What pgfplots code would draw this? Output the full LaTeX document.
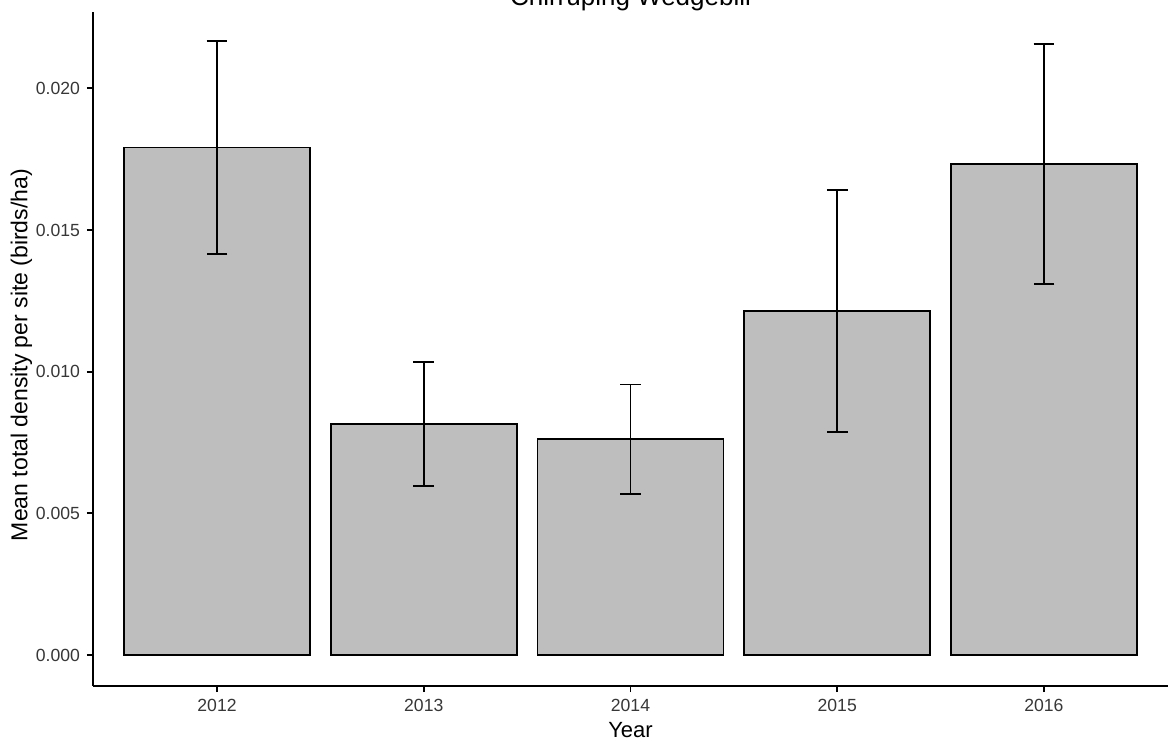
\documentclass[border=0pt]{standalone}
\usepackage{fontspec}
\setmainfont{Liberation Sans}
\usepackage{pgfplots}
\usepackage{pgfplotstable}
\pgfplotsset{compat=1.18}
\definecolor{barfill}{RGB}{190,190,190}
\definecolor{ticktext}{RGB}{55,55,55}
\pgfplotstableread{
x y ep em
0 0.01791 0.00376 0.00376
1 0.00815 0.00220 0.00219
2 0.00762 0.00193 0.00194
3 0.01214 0.00428 0.00427
4 0.01733 0.00423 0.00424
}\density
\begin{document}
\begin{tikzpicture}
\begin{axis}[
  at={(0,0)}, anchor=south west,
  scale only axis, width=537.5pt, height=337pt,
  xmin=-0.6, xmax=4.6, ymin=-0.00109, ymax=0.02269,
  axis lines*=left,
  axis line style={line width=0.9pt, black},
  tick align=outside,
  major tick length=3pt,
  every tick/.style={black, line width=0.9pt},
  xtick={0,1,2,3,4}, xticklabels={2012,2013,2014,2015,2016},
  ytick={0,0.005,0.01,0.015,0.02},
  scaled y ticks=false,
  yticklabel style={/pgf/number format/fixed, /pgf/number format/precision=3, /pgf/number format/fixed zerofill},
  /pgf/number format/assume math mode=true,
  tick label style={font=\fontsize{8.8}{10.5}\selectfont, text=ticktext},
  xlabel={Year}, ylabel={Mean total density per site (birds/ha)},
  xlabel style={font=\fontsize{11}{13}\selectfont, at={(axis description cs:0.5,0)}, yshift=-22pt, anchor=center},
  ylabel style={font=\fontsize{11.5}{13.5}\selectfont, at={(axis description cs:-0.0665,0.491)}, anchor=center},
  clip=false,
]
\addplot[ybar, bar width=0.9, fill=barfill, draw=black, line width=0.9pt,
  error bars/.cd, y dir=both, y explicit,
  error bar style={black, line width=0.9pt},
  error mark options={black, rotate=90, mark size=5.2pt, line width=0.9pt}]
  table[x=x, y=y, y error plus=ep, y error minus=em] {\density};
\end{axis}
\node[anchor=base, inner sep=0pt, font=\fontsize{13}{15.5}\selectfont] at (268.75pt,340pt) {Chirruping Wedgebill};
\pgfresetboundingbox
\useasboundingbox (-46.5pt,-28.5pt) rectangle (541.5pt,343pt);
\end{tikzpicture}
\end{document}
